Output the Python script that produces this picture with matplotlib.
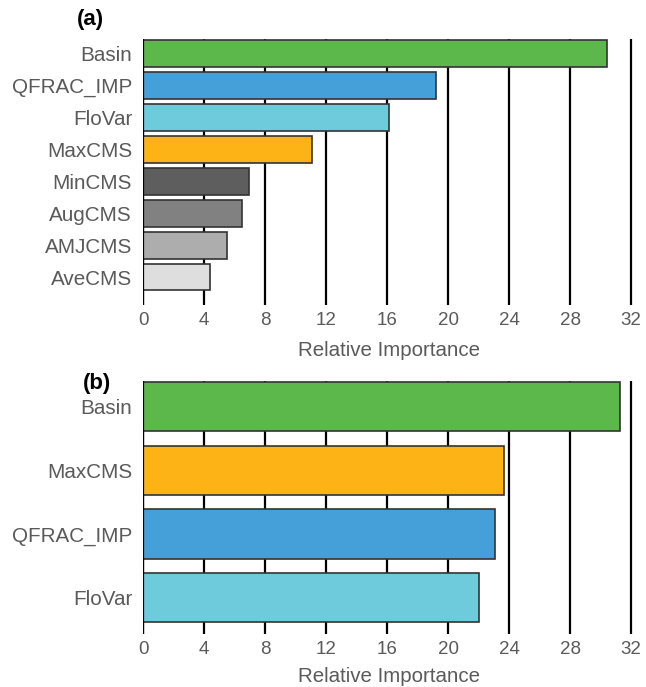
import matplotlib
matplotlib.use("Agg")
import matplotlib.pyplot as plt

plt.rcParams['font.family'] = ['Liberation Sans', 'DejaVu Sans']

# panel (a): all predictors
names_a = ['Basin', 'QFRAC_IMP', 'FloVar', 'MaxCMS', 'MinCMS', 'AugCMS', 'AMJCMS', 'AveCMS']
imp_a = [30.4, 19.2, 16.15, 11.05, 6.95, 6.5, 5.5, 4.4]
colors_a = ['#5cb84a', '#45a0d9', '#6ecbdc', '#fdb316', '#5e5e5e', '#818181', '#adadad', '#dedede']

# panel (b): reduced model
names_b = ['Basin', 'MaxCMS', 'QFRAC_IMP', 'FloVar']
imp_b = [31.25, 23.7, 23.1, 22.0]
colors_b = ['#5cb84a', '#fdb316', '#45a0d9', '#6ecbdc']

xticks = [0, 4, 8, 12, 16, 20, 24, 28, 32]
txt = '#5a5a5a'

fig = plt.figure(figsize=(6.46, 6.87), dpi=100)
ax1 = fig.add_axes([0.2218, 0.556, 0.762, 0.3868])
ax2 = fig.add_axes([0.2218, 0.0771, 0.762, 0.3687])


def style(ax, names, vals, cols, height, ylim, lpad):
    pos = list(range(len(names)))
    ax.barh(pos, vals, height=height, color=cols, edgecolor='#333333',
            linewidth=1.2, zorder=3)
    for x in xticks:
        ax.axvline(x, color='black', linewidth=1.6, zorder=1)
    ax.axvline(0, color='black', linewidth=1.6, zorder=4)
    ax.set_xlim(0, 32.3)
    ax.set_ylim(*ylim)
    ax.set_yticks(pos)
    ax.set_yticklabels(names, fontsize=14.9, color=txt)
    ax.set_xticks(xticks)
    ax.set_xticklabels([str(x) for x in xticks], fontsize=13.5, color=txt)
    ax.tick_params(axis='x', length=0, pad=5)
    ax.tick_params(axis='y', length=0, pad=8)
    for s in ['top', 'right', 'bottom', 'left']:
        ax.spines[s].set_visible(False)
    ax.set_xlabel('Relative Importance', fontsize=14.8, color=txt, labelpad=lpad)


style(ax1, names_a, imp_a, colors_a, 0.83, (7.87, -0.44), 8.5)
style(ax2, names_b, imp_b, colors_b, 0.77, (3.567, -0.40), 6.5)

fig.text(0.119, 0.971, '(a)', fontsize=16, fontweight='bold', ha='left', va='center')
fig.text(0.128, 0.4425, '(b)', fontsize=16, fontweight='bold', ha='left', va='center')

fig.savefig('out.png', dpi=100)
